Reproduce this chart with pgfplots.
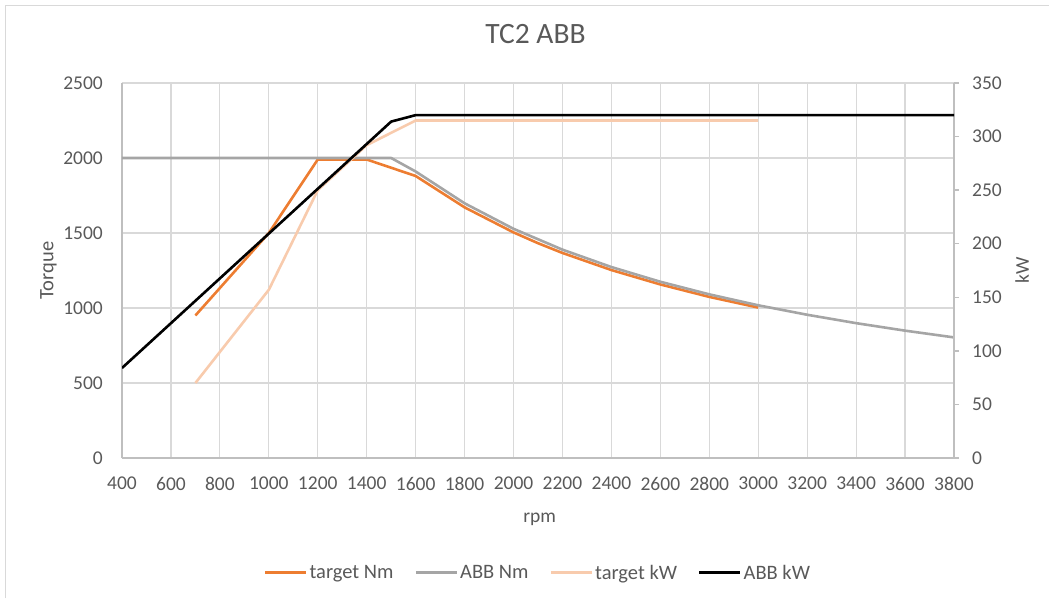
\documentclass[border=0pt]{standalone}
\usepackage{pgfplots}
\pgfplotsset{compat=1.18}
\usepackage{fontspec}
\setmainfont{Carlito}
\definecolor{cOrange}{HTML}{ED7D31}
\definecolor{cGray}{HTML}{A5A5A5}
\definecolor{cLight}{HTML}{F8CBAD}
\definecolor{cText}{HTML}{595959}
\definecolor{cGrid}{HTML}{D9D9D9}
\definecolor{cAxis}{HTML}{BFBFBF}
\newcommand{\tickfont}{\fontsize{19.5}{23}\selectfont}
\begin{document}
\begin{tikzpicture}
\useasboundingbox (0pt,0pt) rectangle (1049pt,598pt);
\draw[cGrid, line width=1.5pt] (5.5pt,0pt) -- (5.5pt,592.5pt) -- (1049pt,592.5pt);
\pgfplotsset{
  common/.style={
    at={(122pt,140pt)}, anchor=south west, scale only axis,
    width=832pt, height=375pt,
    xmin=400, xmax=3800,
    /pgf/number format/assume math mode=true,
    /pgf/number format/1000 sep={},
    ticklabel style={font=\tickfont, text=cText},
    label style={font=\tickfont, text=cText},
    axis line style={cAxis, line width=1.3pt},
    every axis plot/.append style={line width=2.6pt, line join=round},
  }
}
\begin{axis}[common,
  ymin=0, ymax=2500,
  xtick={400,600,...,3800},
  ytick={0,500,...,2500},
  axis x line*=bottom, axis y line*=left,
  grid=major, major grid style={cGrid, line width=1.2pt},
  tick style={draw=none},
  yticklabel style={anchor=east, inner sep=0pt, xshift=-19pt},
  xticklabel style={anchor=north, inner sep=0pt, yshift=-19pt},
  title={TC2 ABB},
  title style={at={(axis description cs:0.497,1.115)}, anchor=center, font=\fontsize{29.5}{34}\selectfont, text=cText},
  xlabel={rpm},
  xlabel style={at={(axis description cs:0.502,-0.163)}, anchor=center},
  ylabel={Torque},
  ylabel style={at={(axis description cs:-0.0885,0.5)}, anchor=center, rotate=0, font=\fontsize{20.5}{24}\selectfont},
]
\addplot[cOrange] coordinates {
 (700,950) (1000,1500) (1200,1990) (1400,1990) (1600,1880) (1800,1671)
 (2000,1504) (2100,1432) (2200,1367) (2400,1253) (2600,1157) (2800,1074) (3000,1003)};
\addplot[cGray] coordinates {
 (400,2000) (600,2000) (800,2000) (1000,2000) (1200,2000) (1400,2000) (1500,2000)
 (1600,1910) (1800,1698) (2000,1528) (2200,1389) (2400,1273) (2600,1175)
 (2800,1091) (3000,1018) (3200,955) (3400,899) (3600,849) (3800,804)};
\end{axis}
\begin{axis}[common,
  ymin=0, ymax=350,
  axis x line=none, axis y line*=right,
  ytick={0,50,...,350},
  tick align=outside, major tick length=5pt,
  ytick style={cAxis, line width=1.3pt},
  yticklabel style={anchor=west, inner sep=0pt, xshift=13pt},
  ylabel={kW},
  ylabel style={at={(axis description cs:1.0817,0.5)}, anchor=center},
  legend columns=4,
  legend style={at={(axis description cs:0.5,-0.306)}, anchor=center, draw=none, fill=none,
    font=\fontsize{20.5}{24}\selectfont, text=cText, inner sep=0pt,
    nodes={inner sep=2pt},
    /tikz/every even column/.append style={column sep=19pt}},
  legend image code/.code={\draw[#1] (0pt,0pt) -- (41pt,0pt);},
]
\addlegendimage{cOrange, line width=2.6pt}
\addlegendentry{target Nm}
\addlegendimage{cGray, line width=2.6pt}
\addlegendentry{ABB Nm}
\addplot[cLight] coordinates {
 (700,70) (1000,157) (1200,250) (1400,292) (1600,315) (3000,315)};
\addlegendentry{target kW}
\addplot[black] coordinates {
 (400,84) (1500,314) (1600,320) (3800,320)};
\addlegendentry{ABB kW}
\end{axis}
\end{tikzpicture}
\end{document}
